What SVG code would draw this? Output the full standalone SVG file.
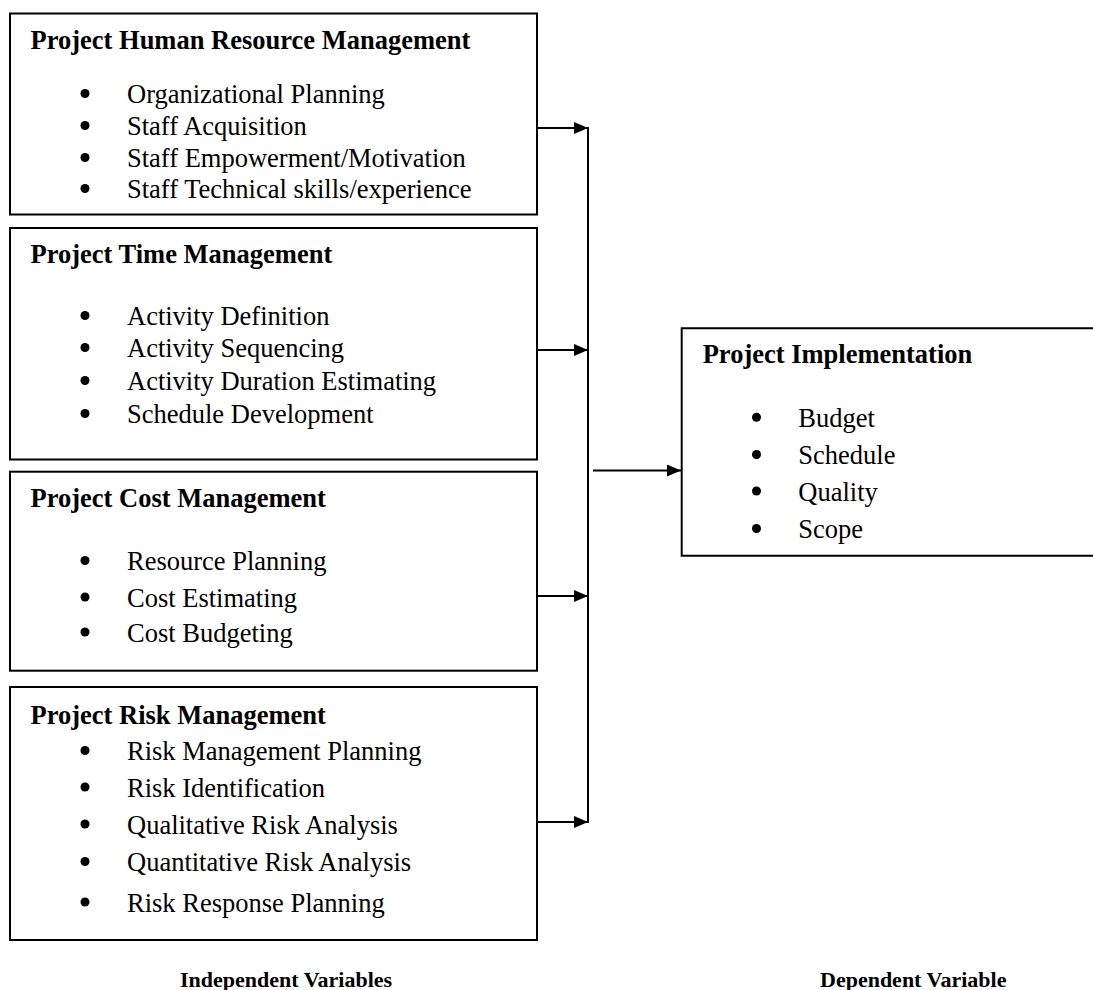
<svg xmlns="http://www.w3.org/2000/svg" width="1093" height="990" viewBox="0 0 1093 990">
  <style>
    .box { fill: #fff; stroke: #000; stroke-width: 2; }
    .title { font-family: "Liberation Serif", "Times New Roman", serif; font-weight: bold; font-size: 26.5px; fill: #000; }
    .item { font-family: "Liberation Serif", "Times New Roman", serif; font-size: 26.5px; fill: #000; }
    .caption { font-family: "Liberation Serif", "Times New Roman", serif; font-weight: bold; font-size: 22px; fill: #000; }
    .dot { fill: #000; }
    .wire { fill: none; stroke: #000; stroke-width: 2; }
  </style>
  <defs>
    <marker id="arrowhead" markerUnits="userSpaceOnUse" markerWidth="15" markerHeight="13" refX="14" refY="6" orient="auto">
      <path d="M0,0 L14,6 L0,12 Z" fill="#000"/>
    </marker>
  </defs>
  <rect width="1093" height="990" fill="#fff"/>

  <!-- Independent variable: human resources -->
  <g id="node-human-resource">
    <rect class="box" x="10" y="13.5" width="527" height="201"/>
    <text class="title" x="30.5" y="49">Project Human Resource Management</text>
    <circle class="dot" cx="85" cy="93.5" r="4.5"/>
    <text class="item" x="127" y="103">Organizational Planning</text>
    <circle class="dot" cx="85" cy="125.5" r="4.5"/>
    <text class="item" x="127" y="135">Staff Acquisition</text>
    <circle class="dot" cx="85" cy="157.5" r="4.5"/>
    <text class="item" x="127" y="167">Staff Empowerment/Motivation</text>
    <circle class="dot" cx="85" cy="188.5" r="4.5"/>
    <text class="item" x="127" y="198">Staff Technical skills/experience</text>
  </g>

  <!-- Independent variable: time -->
  <g id="node-time">
    <rect class="box" x="10" y="228" width="527" height="231.5"/>
    <text class="title" x="30.5" y="262.7">Project Time Management</text>
    <circle class="dot" cx="85" cy="315.5" r="4.5"/>
    <text class="item" x="127" y="325">Activity Definition</text>
    <circle class="dot" cx="85" cy="347.5" r="4.5"/>
    <text class="item" x="127" y="357">Activity Sequencing</text>
    <circle class="dot" cx="85" cy="380.5" r="4.5"/>
    <text class="item" x="127" y="390">Activity Duration Estimating</text>
    <circle class="dot" cx="85" cy="413.5" r="4.5"/>
    <text class="item" x="127" y="423">Schedule Development</text>
  </g>

  <!-- Independent variable: cost -->
  <g id="node-cost">
    <rect class="box" x="10" y="471.7" width="527" height="199"/>
    <text class="title" x="30.5" y="507">Project Cost Management</text>
    <circle class="dot" cx="85" cy="560.5" r="4.5"/>
    <text class="item" x="127" y="570">Resource Planning</text>
    <circle class="dot" cx="85" cy="597" r="4.5"/>
    <text class="item" x="127" y="606.7">Cost Estimating</text>
    <circle class="dot" cx="85" cy="632" r="4.5"/>
    <text class="item" x="127" y="641.7">Cost Budgeting</text>
  </g>

  <!-- Independent variable: risk -->
  <g id="node-risk">
    <rect class="box" x="10" y="687" width="527" height="253"/>
    <text class="title" x="30.5" y="724">Project Risk Management</text>
    <circle class="dot" cx="85" cy="750.5" r="4.5"/>
    <text class="item" x="127" y="760">Risk Management Planning</text>
    <circle class="dot" cx="85" cy="787" r="4.5"/>
    <text class="item" x="127" y="796.5">Risk Identification</text>
    <circle class="dot" cx="85" cy="824" r="4.5"/>
    <text class="item" x="127" y="833.5">Qualitative Risk Analysis</text>
    <circle class="dot" cx="85" cy="861.5" r="4.5"/>
    <text class="item" x="127" y="871">Quantitative Risk Analysis</text>
    <circle class="dot" cx="85" cy="902" r="4.5"/>
    <text class="item" x="127" y="911.5">Risk Response Planning</text>
  </g>

  <!-- Dependent variable: implementation (open on the right edge) -->
  <g id="node-implementation">
    <path class="box" d="M1096,328.3 H681.7 V555.7 H1096"/>
    <text class="title" x="702.7" y="363.3">Project Implementation</text>
    <circle class="dot" cx="756.5" cy="417.2" r="4.5"/>
    <text class="item" x="798.3" y="426.7">Budget</text>
    <circle class="dot" cx="756.5" cy="454.5" r="4.5"/>
    <text class="item" x="798.3" y="464">Schedule</text>
    <circle class="dot" cx="756.5" cy="491" r="4.5"/>
    <text class="item" x="798.3" y="500.5">Quality</text>
    <circle class="dot" cx="756.5" cy="528.5" r="4.5"/>
    <text class="item" x="798.3" y="538">Scope</text>
  </g>

  <!-- Connectors -->
  <g id="connectors">
    <line class="wire" x1="537" y1="128" x2="588" y2="128" marker-end="url(#arrowhead)"/>
    <line class="wire" x1="537" y1="350" x2="588" y2="350" marker-end="url(#arrowhead)"/>
    <line class="wire" x1="537" y1="596" x2="588" y2="596" marker-end="url(#arrowhead)"/>
    <line class="wire" x1="537" y1="822" x2="588" y2="822" marker-end="url(#arrowhead)"/>
    <line class="wire" x1="588" y1="127" x2="588" y2="823"/>
    <line class="wire" x1="593" y1="470.5" x2="681" y2="470.5" marker-end="url(#arrowhead)"/>
  </g>

  <!-- Captions -->
  <g id="captions">
    <text class="caption" x="180" y="987">Independent Variables</text>
    <text class="caption" x="820" y="987">Dependent Variable</text>
  </g>
</svg>
